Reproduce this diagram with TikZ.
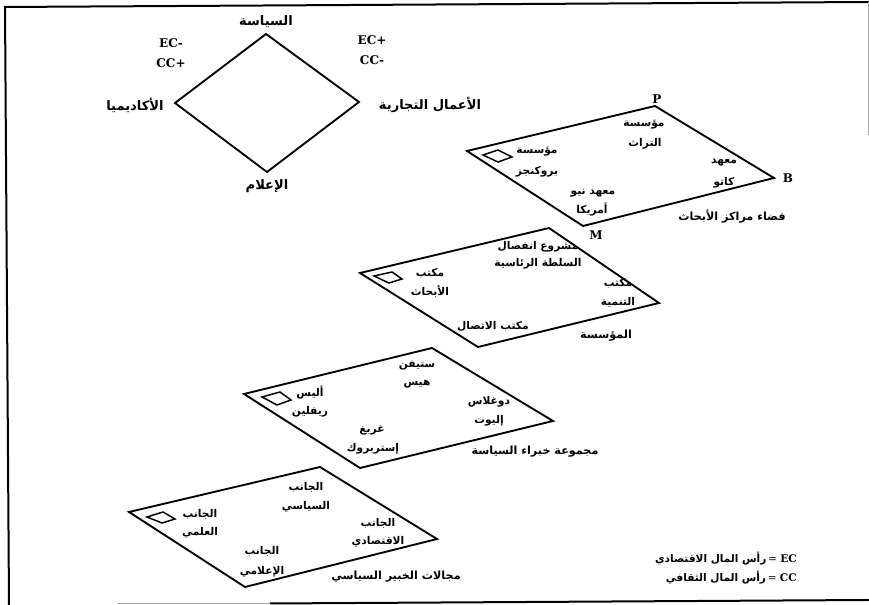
\documentclass[tikz,border=0pt]{standalone}
\usepackage{fontspec}
\setmainfont{DejaVu Serif}
\newfontfamily\arabicfont[Script=Arabic]{DejaVu Sans}
\TeXXeTstate=1
\newcommand{\ar}[1]{{\arabicfont\bfseries\beginR #1\endR}}
\tikzset{
  x=0.75pt,y=-0.75pt,
  plane/.style={draw=black,line width=1.4pt,line join=miter},
  chip/.style={draw=black,line width=1.1pt},
  frameline/.style={draw=black,line width=1.5pt},
  faintline/.style={draw=gray!70,line width=1pt},
  lab/.style={inner sep=0pt,font=\fontsize{8}{10}\selectfont},
  caption/.style={inner sep=0pt,font=\fontsize{8.4}{10}\selectfont},
  legendlab/.style={inner sep=0pt,font=\fontsize{7.9}{10}\selectfont},
  biglab/.style={inner sep=0pt,font=\fontsize{9.8}{12}\selectfont},
  latin/.style={inner sep=0pt,font=\fontsize{9}{11}\selectfont\bfseries}
}
\begin{document}
\begin{tikzpicture}
\useasboundingbox (0,0) rectangle (869,605);
\fill[white] (0,0) rectangle (869,605);
% frame
\coordinate (f0) at (9,605); \coordinate (f1) at (5,7); \coordinate (f2) at (869,2);
\coordinate (f3) at (868.4,2); \coordinate (f4) at (868.4,135);
\coordinate (f5) at (869,600); \coordinate (f6) at (270,603.5); \coordinate (f7) at (118,603.5);
\draw[frameline] (f0) -- (f1) -- (f2);
\draw[faintline] (f3) -- (f4);
\draw[frameline] (f5) -- (f6);
\draw[faintline] (f6) -- (f7);
% top diamond
\coordinate (dt) at (266,34); \coordinate (dr) at (359,102);
\coordinate (db) at (267,172); \coordinate (dl) at (175,103);
\draw[plane] (dt) -- (dr) -- (db) -- (dl) -- cycle;
\node[biglab] (n1) at (266,22) {\ar{السياسة}};
\node[biglab] (n2) at (430,105) {\ar{الأعمال التجارية}};
\node[biglab] (n3) at (267,186) {\ar{الإعلام}};
\node[biglab] (n4) at (135,105) {\ar{الأكاديميا}};
\node[latin] (n5) at (171,43) {EC-};
\node[latin] (n6) at (171,63) {CC+};
\node[latin] (n7) at (372,40) {EC+};
\node[latin] (n8) at (372,60) {CC-};
% plane 1
\coordinate (a1) at (467,151); \coordinate (a2) at (655,106);
\coordinate (a3) at (774,178); \coordinate (a4) at (583,226);
\draw[plane] (a1) -- (a2) -- (a3) -- (a4) -- cycle;
\coordinate (a5) at (483,155); \coordinate (a6) at (498,150);
\coordinate (a7) at (512,157); \coordinate (a8) at (498,162);
\draw[chip] (a5) -- (a6) -- (a7) -- (a8) -- cycle;
\node[latin] (p1) at (657,99) {P};
\node[latin] (p2) at (788,178) {B};
\node[latin] (p3) at (596,235) {M};
\node[lab] (t1) at (644,125) {\ar{مؤسسة}};
\node[lab] (t2) at (645,144) {\ar{التراث}};
\node[lab] (t3) at (724,163) {\ar{معهد}};
\node[lab] (t4) at (724,183) {\ar{كاتو}};
\node[lab] (t5) at (537,152) {\ar{مؤسسة}};
\node[lab] (t6) at (537,172) {\ar{بروكنجز}};
\node[lab] (t7) at (593,193) {\ar{معهد نيو}};
\node[lab] (t8) at (592,210) {\ar{أمريكا}};
\node[caption] (t9) at (732,217) {\ar{فضاء مراكز الأبحاث}};
% plane 2
\coordinate (b1) at (360,273); \coordinate (b2) at (549,228);
\coordinate (b3) at (659,303); \coordinate (b4) at (478,347);
\draw[plane] (b1) -- (b2) -- (b3) -- (b4) -- cycle;
\coordinate (b5) at (374,276); \coordinate (b6) at (392,272);
\coordinate (b7) at (402,279); \coordinate (b8) at (389,283);
\draw[chip] (b5) -- (b6) -- (b7) -- (b8) -- cycle;
\node[lab] (u1) at (538,247) {\ar{مشروع انفصال}};
\node[lab] (u2) at (538,264) {\ar{السلطة الرئاسية}};
\node[lab] (u3) at (430,273) {\ar{مكتب}};
\node[lab] (u4) at (430,291) {\ar{الأبحاث}};
\node[lab] (u5) at (618,283) {\ar{مكتب}};
\node[lab] (u6) at (618,302) {\ar{التنمية}};
\node[lab] (u7) at (493,326) {\ar{مكتب الاتصال}};
\node[caption] (u8) at (606,336) {\ar{المؤسسة}};
% plane 3
\coordinate (c1) at (244,394); \coordinate (c2) at (432,348);
\coordinate (c3) at (553,421); \coordinate (c4) at (360,468);
\draw[plane] (c1) -- (c2) -- (c3) -- (c4) -- cycle;
\coordinate (c5) at (262,397); \coordinate (c6) at (280,392);
\coordinate (c7) at (291,400); \coordinate (c8) at (277,405);
\draw[chip] (c5) -- (c6) -- (c7) -- (c8) -- cycle;
\node[lab] (v1) at (417,365) {\ar{ستيفن}};
\node[lab] (v2) at (417,384) {\ar{هيس}};
\node[lab] (v3) at (310,393) {\ar{أليس}};
\node[lab] (v4) at (310,412) {\ar{ريفلين}};
\node[lab] (v5) at (489,402) {\ar{دوغلاس}};
\node[lab] (v6) at (489,421) {\ar{إليوت}};
\node[lab] (v7) at (372,430) {\ar{غريغ}};
\node[lab] (v8) at (373,449) {\ar{إستربروك}};
\node[caption] (v9) at (535,452) {\ar{مجموعة خبراء السياسة}};
% plane 4
\coordinate (d1) at (129,512); \coordinate (d2) at (320,467);
\coordinate (d3) at (437,539); \coordinate (d4) at (245,587);
\draw[plane] (d1) -- (d2) -- (d3) -- (d4) -- cycle;
\coordinate (d5) at (147,517); \coordinate (d6) at (163,512);
\coordinate (d7) at (175,519); \coordinate (d8) at (162,523);
\draw[chip] (d5) -- (d6) -- (d7) -- (d8) -- cycle;
\node[lab] (w1) at (200,514) {\ar{الجانب}};
\node[lab] (w2) at (200,533) {\ar{العلمي}};
\node[lab] (w3) at (306,487) {\ar{الجانب}};
\node[lab] (w4) at (306,507) {\ar{السياسي}};
\node[lab] (w5) at (378,523) {\ar{الجانب}};
\node[lab] (w6) at (378,542) {\ar{الاقتصادي}};
\node[lab] (w7) at (262,551) {\ar{الجانب}};
\node[lab] (w8) at (262,572) {\ar{الإعلامي}};
\node[caption] (w9) at (396,577) {\ar{مجالات الخبير السياسي}};
% legend
\node[legendlab,anchor=east] (k1) at (797,559) {\ar{رأس المال الاقتصادي}\,= \textbf{EC}};
\node[legendlab,anchor=east] (k2) at (797,578) {\ar{رأس المال الثقافي}\,= \textbf{CC}};
\end{tikzpicture}
\end{document}
